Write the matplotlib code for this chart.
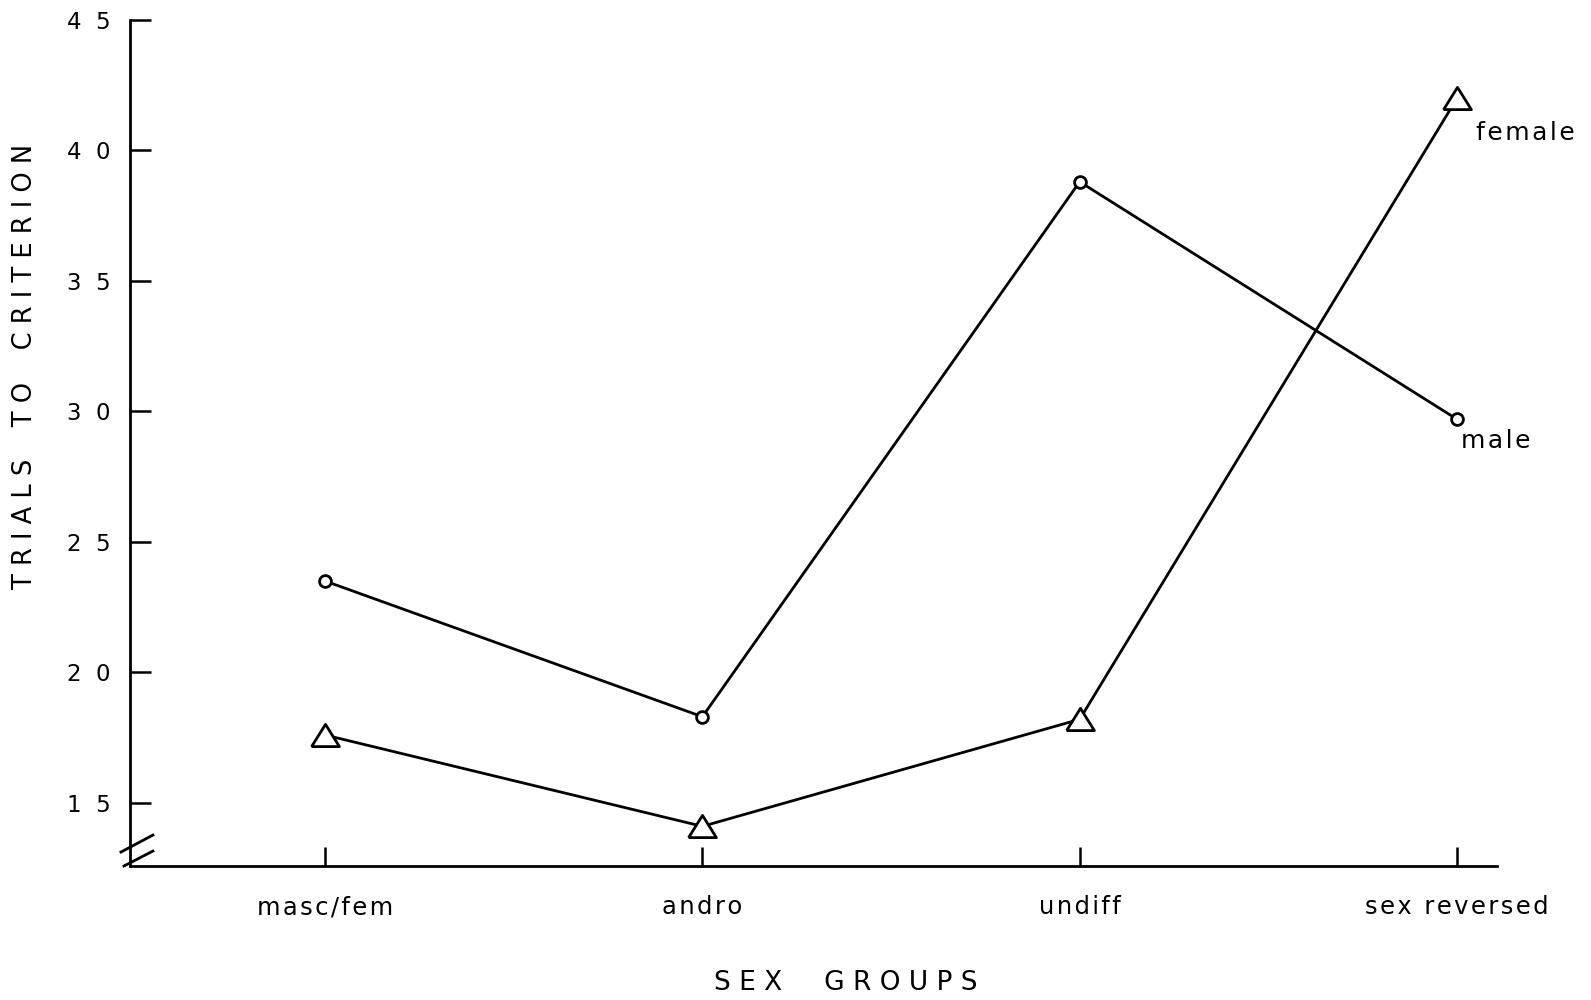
import matplotlib
matplotlib.use("Agg")
import matplotlib.pyplot as plt
import numpy as np

plt.rcParams.update({
    "font.family": ["DejaVu Sans"],
    "font.size": 15,
    "axes.linewidth": 2.0,
})

# data
groups = ["masc/fem", "andro", "undiff", "sex reversed"]
male = [23.5, 18.3, 38.8, 29.7]
female = [17.6, 14.1, 18.2, 42.0]
yticks = [15, 20, 25, 30, 35, 40, 45]

HAIR = "\u200a"


def spaced(s, gap=HAIR):
    return gap.join(s)


fig = plt.figure(figsize=(15.91, 10), dpi=100)
fig.patch.set_facecolor("white")
ax = fig.add_axes([130 / 1591, 1 - 866 / 1000, 1367 / 1591, 846 / 1000])

x = np.arange(len(groups))
ax.plot(x, male, color="black", lw=2.0, marker="o", ms=8.5,
        mfc="white", mec="black", mew=2.0, clip_on=False, zorder=3)
tri = [(-1.0, -0.8), (1.0, -0.8), (0.0, 0.8), (-1.0, -0.8)]
ax.plot(x, female, color="black", lw=2.0, marker=tri, ms=20,
        mfc="white", mec="black", mew=2.0, clip_on=False, zorder=3)

ax.annotate(spaced("female"), (x[-1], female[-1]), xytext=(14, -25),
            textcoords="offset points", ha="left", va="center", fontsize=18)
ax.annotate(spaced("male"), (x[-1], male[-1]), xytext=(3, -16),
            textcoords="offset points", ha="left", va="center", fontsize=18)

ax.set_xlim(-0.517, 3.106)
ax.set_ylim(12.58, 45)
ax.spines["top"].set_visible(False)
ax.spines["right"].set_visible(False)

ax.set_xticks(x)
ax.set_xticklabels([spaced(g) for g in groups], fontsize=17.5)
ax.set_yticks(yticks)
ax.set_yticklabels(["  ".join(str(v)) for v in yticks], fontsize=16.5)
ax.tick_params(axis="x", direction="in", length=14, width=1.8, pad=21)
ax.tick_params(axis="y", direction="in", length=15, width=1.8, pad=14)

# axis break marks at the corner
for (x0, y0), (x1, y1) in [((-0.0066, 0.0165), (0.0168, 0.0366)),
                           ((-0.0044, 0.0), (0.0168, 0.0177))]:
    ax.plot([x0, x1], [y0, y1], transform=ax.transAxes, color="black",
            lw=2.0, clip_on=False)

fig.text(25 / 1591, 1 - 366 / 1000, "T R I A L S    T O    C R I T E R I O N",
         rotation=90, ha="center", va="center", fontsize=18.5)
fig.text(846 / 1591, 1 - 983 / 1000, "S E X     G R O U P S",
         ha="center", va="center", fontsize=19)

fig.savefig("out.png", dpi=100, facecolor="white")
